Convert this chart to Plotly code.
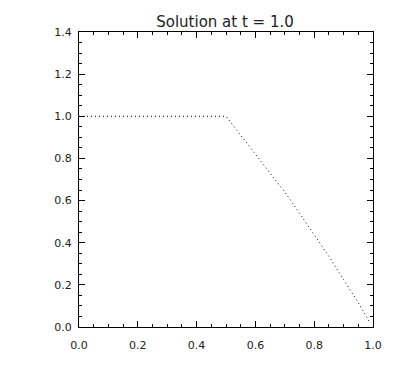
import plotly.graph_objects as go

# data
x_vals = [0.0, 0.1, 0.2, 0.3, 0.4, 0.5, 0.55, 0.6, 0.65, 0.7, 0.75, 0.8, 0.85, 0.9, 0.95, 0.99]
y_vals = [1.0, 1.0, 1.0, 1.0, 1.0, 1.0, 0.91, 0.82, 0.735, 0.64, 0.54, 0.44, 0.335, 0.225, 0.115, 0.02]
x_ticks = [0.0, 0.2, 0.4, 0.6, 0.8, 1.0]
y_ticks = [0.0, 0.2, 0.4, 0.6, 0.8, 1.0, 1.2, 1.4]
title_text = "Solution at t = 1.0"

font_family = "DejaVu Sans, Liberation Sans, sans-serif"

fig = go.Figure()
fig.add_trace(go.Scatter(
    x=x_vals, y=y_vals, mode="lines",
    line=dict(color="black", width=1, dash="1px,3px"),
    showlegend=False, hoverinfo="skip",
))

axis_common = dict(
    showgrid=False, zeroline=False, showline=True, linecolor="black", linewidth=1,
    mirror="ticks", ticks="inside", ticklen=6, tickcolor="black", tickwidth=1,
    tickfont=dict(family=font_family, size=11, color="#222"),
    tickformat=".1f",
)

fig.update_layout(
    width=402, height=391,
    margin=dict(l=79, r=29, t=32, b=64),
    paper_bgcolor="white", plot_bgcolor="white",
    title=dict(text=title_text, x=225 / 402, xanchor="center",
               y=1 - 22 / 391, yanchor="middle",
               font=dict(family=font_family, size=15, color="#222")),
    xaxis=dict(range=[0, 1.0], tickvals=x_ticks, ticklabelstandoff=8,
               minor=dict(dtick=0.05, ticklen=3, ticks="inside", tickcolor="black"),
               **axis_common),
    yaxis=dict(range=[0, 1.4], tickvals=y_ticks, ticklabelstandoff=4,
               minor=dict(dtick=0.05, ticklen=3, ticks="inside", tickcolor="black"),
               **axis_common),
)

fig.write_html("out.html")
